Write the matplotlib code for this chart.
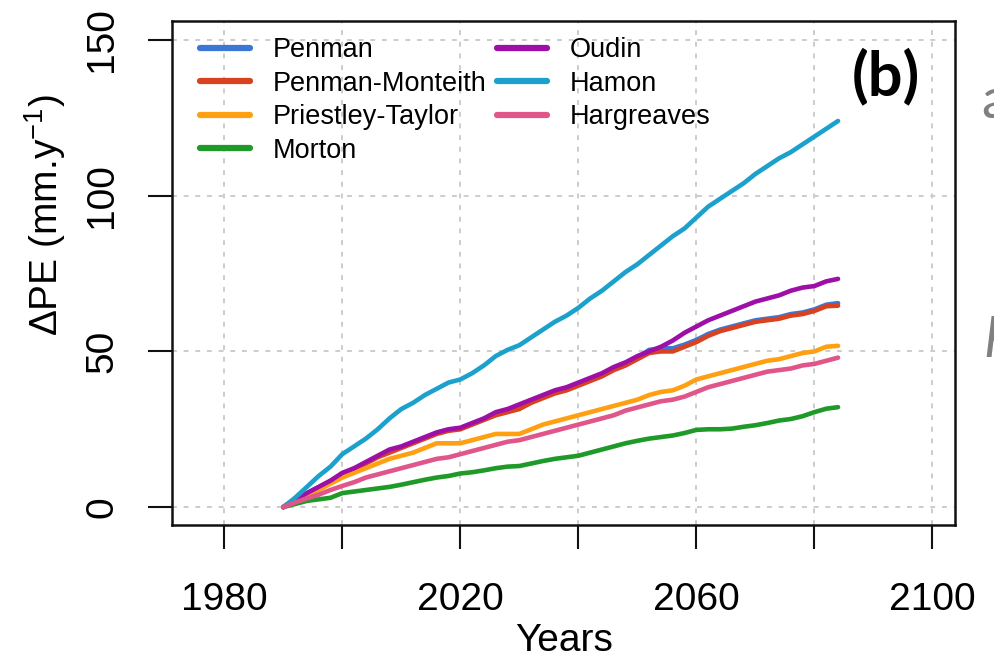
import matplotlib
matplotlib.use("Agg")
import matplotlib.pyplot as plt

plt.rcParams["font.family"] = ["Liberation Sans", "DejaVu Sans"]
plt.rcParams["mathtext.fontset"] = "custom"
plt.rcParams["mathtext.rm"] = "Liberation Sans"
plt.rcParams["mathtext.it"] = "Liberation Sans:italic"

# data: cumulative change in PE, every 2 years from 1990 to 2084
years = list(range(1990, 2085, 2))

penman = [0, 2.4, 4.4, 6.4, 8.4, 10.6, 12.2, 14.2,
          16.2, 17.8, 19.3, 20.8, 22.3, 23.8, 24.8, 25.3,
          26.8, 28.3, 29.8, 30.8, 31.8, 33.8, 35.3, 36.8,
          37.8, 39.3, 40.8, 42.3, 44.3, 46, 48, 50.5,
          51, 51, 52.2, 53.7, 55.6, 57, 58, 59,
          60, 60.5, 61, 62, 62.5, 63.5, 65, 65.5]
penman_monteith = [0, 2.3, 4.3, 6.3, 8.3, 10.5, 12, 14,
                   16, 17.5, 19, 20.5, 22, 23.5, 24.5, 25,
                   26.5, 28, 29.5, 30.5, 31.5, 33.5, 35, 36.5,
                   37.5, 39, 40.5, 42, 44, 45.5, 47.5, 49.5,
                   50, 50, 51.5, 53, 55, 56.5, 57.5, 58.5,
                   59.5, 60, 60.5, 61.5, 62, 63, 64.5, 64.7]
priestley_taylor = [0, 2, 3.8, 5.5, 7.5, 9.5, 11, 12.5,
                    14, 15.5, 16.5, 17.5, 19, 20.5, 20.5, 20.5,
                    21.5, 22.5, 23.5, 23.5, 23.5, 25, 26.5, 27.5,
                    28.5, 29.5, 30.5, 31.5, 32.5, 33.5, 34.5, 36,
                    37, 37.5, 39, 41, 42, 43, 44, 45,
                    46, 47, 47.5, 48.5, 49.5, 50, 51.5, 51.8]
morton = [0, 1, 2, 2.5, 3, 4.5, 5, 5.5,
          6, 6.5, 7.2, 8, 8.8, 9.5, 10, 10.8,
          11.2, 11.8, 12.5, 13, 13.2, 14, 14.8, 15.5,
          16, 16.5, 17.5, 18.5, 19.5, 20.5, 21.3, 22,
          22.5, 23, 23.8, 24.8, 25, 25, 25.2, 25.8,
          26.3, 27, 27.8, 28.3, 29.2, 30.5, 31.6, 32.1]
oudin = [0, 2.5, 4.5, 6.5, 8.5, 11, 12.5, 14.5,
         16.5, 18.5, 19.5, 21, 22.5, 24, 25, 25.5,
         27, 28.5, 30.5, 31.5, 33, 34.5, 36, 37.5,
         38.5, 40, 41.5, 43, 45, 46.5, 48.5, 50,
         51.5, 53.5, 56, 58, 60, 61.5, 63, 64.5,
         66, 67, 68, 69.5, 70.5, 71, 72.5, 73.3]
hamon = [0, 3, 6.5, 10, 13, 17, 19.5, 22,
         25, 28.5, 31.5, 33.5, 36, 38, 40, 41,
         43, 45.5, 48.5, 50.5, 52, 54.5, 57, 59.5,
         61.5, 64, 67, 69.5, 72.5, 75.5, 78, 81,
         84, 87, 89.5, 93, 96.5, 99, 101.5, 104,
         107, 109.5, 112, 114, 116.5, 119, 121.5, 124]
hargreaves = [0, 1.5, 2.8, 4, 5.5, 6.8, 8, 9.5,
              10.5, 11.5, 12.5, 13.5, 14.5, 15.5, 16, 17,
              18, 19, 20, 21, 21.5, 22.5, 23.5, 24.5,
              25.5, 26.5, 27.5, 28.5, 29.5, 31, 32, 33,
              34, 34.5, 35.5, 37, 38.5, 39.5, 40.5, 41.5,
              42.5, 43.5, 44, 44.5, 45.5, 46, 47, 48]

method_names = ["Penman", "Penman-Monteith", "Priestley-Taylor", "Morton",
                "Oudin", "Hamon", "Hargreaves"]
method_series = [penman, penman_monteith, priestley_taylor, morton,
                 oudin, hamon, hargreaves]
method_colors = ["#3d77d6", "#d9411f", "#ffa012", "#1f9a28",
                 "#9e0fa8", "#1ba1cc", "#e0558a"]

x_ticks = [1980, 2000, 2020, 2040, 2060, 2080, 2100]
x_tick_labels = ["1980", "", "2020", "", "2060", "", "2100"]
y_ticks = [0, 50, 100, 150]

fig = plt.figure(figsize=(9.95, 6.63), dpi=100)
ax = fig.add_axes([0.1726, 0.2074, 0.7877, 0.7609])

for name, vals, col in zip(method_names, method_series, method_colors):
    ax.plot(years, vals, color=col, lw=3.3, label=name, solid_capstyle="round")

ax.set_xlim(1971.1, 2103.9)
ax.set_ylim(-5.9, 156.1)
ax.set_xticks(x_ticks)
ax.set_xticklabels(x_tick_labels)
ax.set_yticks(y_ticks)
ax.set_yticklabels([str(v) for v in y_ticks], rotation=90, va="center")

# R style dotted grid
for xv in x_ticks:
    ax.axvline(xv, color="#cccccc", lw=1.4, ls=(0, (2.5, 3.5)), zorder=0)
for yv in y_ticks:
    ax.axhline(yv, color="#cccccc", lw=1.4, ls=(0, (2.5, 3.5)), zorder=0)

for s in ax.spines.values():
    s.set_linewidth(1.8)
    s.set_color("#111111")
ax.tick_params(axis="both", length=17, width=1.5, labelsize=28, color="#111111")
ax.tick_params(axis="x", pad=24)
ax.tick_params(axis="y", pad=20)

leg = ax.legend(loc="upper left", bbox_to_anchor=(0.036, 0.968), ncol=2,
                frameon=False, fontsize=19.5, handlelength=1.85,
                handletextpad=0.85, columnspacing=0.37, labelspacing=0.28,
                borderpad=0, borderaxespad=0)
for ln in leg.get_lines():
    ln.set_linewidth(4.5)
    ln.set_solid_capstyle("round")

ax.text(0.911, 0.891, "(b)", transform=ax.transAxes, ha="center", va="center",
        fontsize=44, fontweight="bold", family=["Lato", "DejaVu Sans"])

fig.text(45 / 995, 1 - 215 / 663, "ΔPE (mm.y$^{-1}$)", rotation=90,
         ha="center", va="center", fontsize=28)
fig.text(563.6 / 995, 1 - 641 / 663, "Years", ha="center", va="center",
         fontsize=28)

# pieces of neighbouring panel text cut at the right edge, as in the source
fig.text(981 / 995, 1 - 118 / 663, "a", fontsize=40, color="#808080",
         family=["Lato", "DejaVu Sans"], va="baseline")
fig.text(984 / 995, 1 - 357 / 663, "h", fontsize=40, color="#808080",
         family=["Lato", "DejaVu Sans"], style="italic", va="baseline")

fig.savefig("out.png", dpi=100)
